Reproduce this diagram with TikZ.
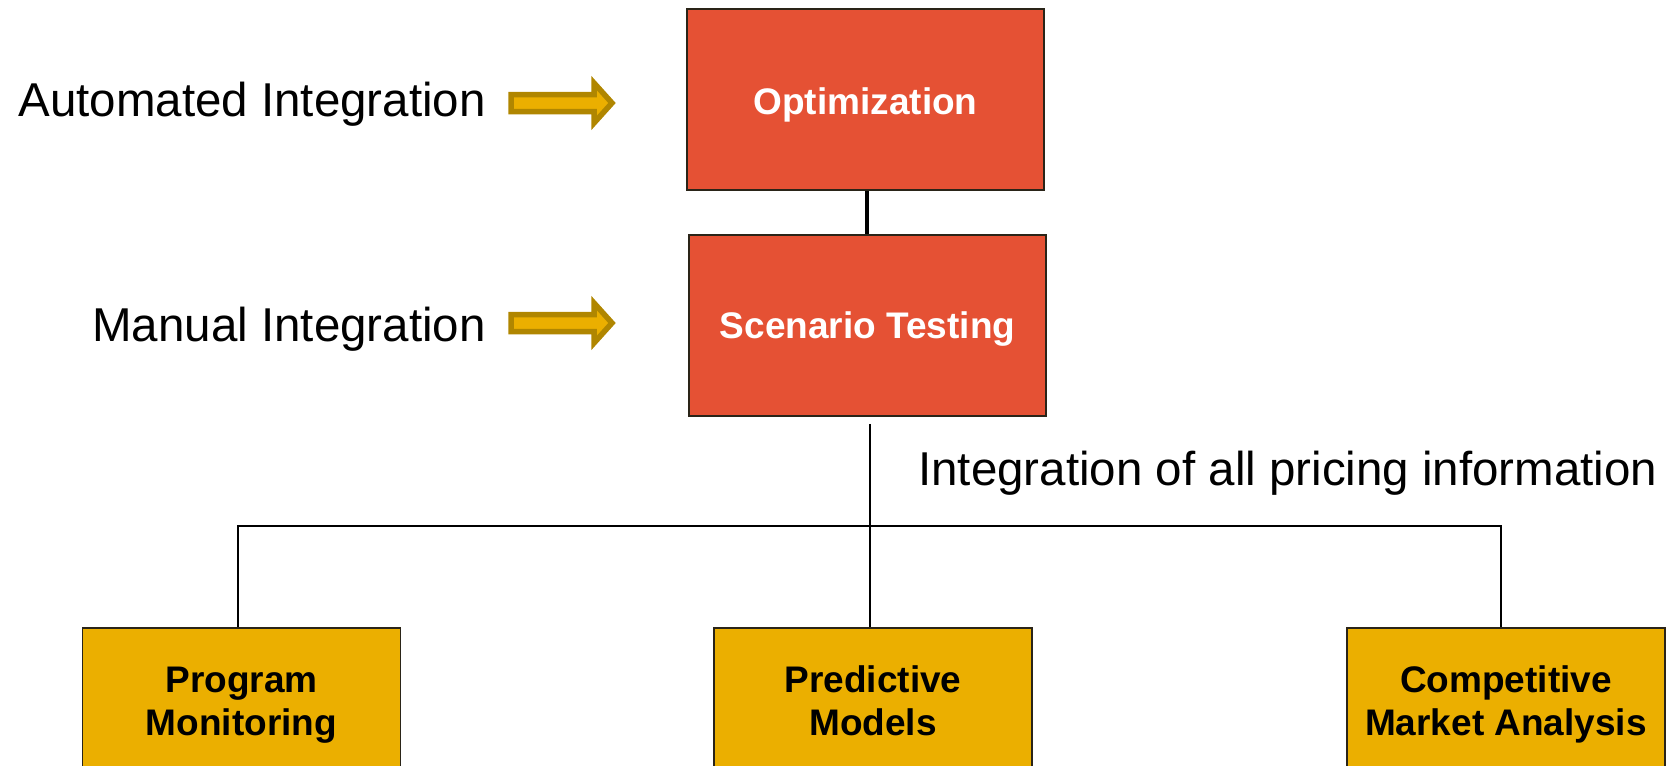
\documentclass[tikz,border=0pt]{standalone}
\usepackage{fontspec}
\setmainfont{Liberation Sans}
\definecolor{boxred}{HTML}{E55134}
\definecolor{boxgold}{HTML}{EBAF00}
\definecolor{arrowedge}{HTML}{B08600}
\definecolor{edgedark}{HTML}{2A2418}
\begin{document}
\begin{tikzpicture}[x=1pt,y=-1pt,
  redbox/.style={draw=edgedark,line width=1.8pt,fill=boxred,minimum width=357pt,minimum height=181pt,
    inner sep=0pt,text=white,font=\fontsize{37}{44}\selectfont\bfseries,text depth=0pt},
  goldbox/.style={draw=edgedark,line width=1.8pt,fill=boxgold,minimum width=318pt,minimum height=154pt,
    inner sep=0pt,align=center,text=black,font=\fontsize{37}{43.3}\selectfont\bfseries},
  sidelabel/.style={inner sep=0pt,font=\fontsize{47.5}{56}\selectfont},
  conn/.style={line width=2.6pt,draw=black},
  fatarrow/.style={draw=arrowedge,fill=boxgold,line width=5.5pt,line join=miter}]
\useasboundingbox (0,0) rectangle (1674,766);
\node[redbox,text height=29pt] (opt) at (865.5,99.5) {Optimization};
\node[redbox,text height=25pt] (scen) at (867.5,325.5) {Scenario Testing};
\node[goldbox] (prog) at (241.5,705) {\strut Program\\\strut Monitoring};
\node[goldbox] (pred) at (873,705) {\strut Predictive\\\strut Models};
\node[goldbox] (comp) at (1506,705) {\strut Competitive\\\strut Market Analysis};
\node[sidelabel,anchor=base east] (auto) at (486,116) {Automated Integration};
\node[sidelabel,anchor=base east] (man) at (486,341.5) {Manual Integration};
\node[sidelabel,anchor=base west] (info) at (918,485) {Integration of all pricing information};
% connectors
\draw[line width=3.6pt] (opt.south -| 867,0) -- (scen.north -| 867,0);
\draw[conn] ([yshift=-7pt]scen.south -| 870,0) -- (pred.north -| 870,0);
\draw[conn] ([xshift=-3.5pt]prog.north) -- ++(0,-101) -| ([xshift=-5pt]comp.north);
% fat arrows
\foreach \yc in {103,323}{
  \draw[fatarrow] (511,\yc-8.5) -- (594,\yc-8.5) -- (594,\yc-20) -- (612,\yc) -- (594,\yc+20) -- (594,\yc+8.5) -- (511,\yc+8.5) -- cycle;
}
\end{tikzpicture}
\end{document}
